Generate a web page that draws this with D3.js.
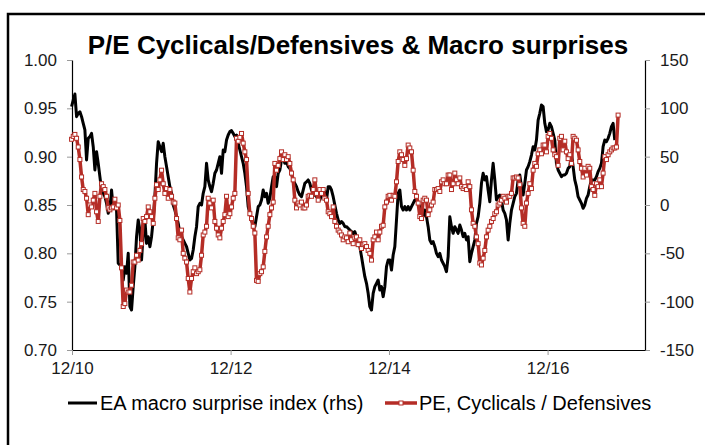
<!DOCTYPE html>
<html>
<head>
<meta charset="utf-8">
<script src="https://cdn.jsdelivr.net/npm/d3@7"></script>
<style>
  body { margin: 0; background: #fff; }
  svg { display: block; font-family: Arial, "Liberation Sans", sans-serif; }
</style>
</head>
<body>
<svg id="chart" width="705" height="445"></svg>
<script>
// observations roughly weekly, first one end of Nov 2010
var firstObs = new Date(2010, 10, 29);
var obsStepDays = 7.68;

// P/E Cyclicals / Defensives (lhs)
var peRatio = [
  .918,.921,.923,.919,.910,.897,.879,.866,.864,.857,
  .840,.850,.848,.855,.862,.843,.833,.859,.872,.869,
  .866,.859,.847,.845,.847,.848,.856,.847,.850,.834,
  .785,.745,.748,.762,.760,.760,.767,.791,.791,.798,
  .793,.803,.810,.836,.833,.838,.848,.843,.838,.831,
  .857,.871,.866,.876,.886,.872,.862,.867,.857,.866,
  .859,.853,.852,.836,.816,.814,.824,.800,.795,.791,
  .774,.760,.774,.781,.785,.779,.781,.783,.798,.819,
  .822,.828,.857,.852,.847,.855,.833,.826,.819,.816,
  .826,.833,.840,.859,.838,.841,.848,.857,.862,.919,
  .916,.920,.924,.914,.905,.897,.862,.841,.836,.828,
  .821,.772,.771,.779,.781,.786,.802,.817,.828,.840,
  .847,.853,.893,.886,.891,.898,.905,.897,.902,.897,
  .900,.893,.883,.876,.855,.847,.852,.850,.853,.847,
  .847,.850,.859,.860,.859,.866,.876,.862,.855,.866,
  .862,.866,.857,.855,.843,.841,.838,.848,.833,.828,
  .824,.822,.819,.814,.817,.816,.812,.821,.814,.810,
  .816,.817,.809,.814,.805,.809,.810,.807,.803,.800,
  .793,.814,.817,.822,.814,.822,.828,.829,.848,.853,
  .859,.860,
  .855,.860,.859,.874,.895,.905,.902,.897,.891,.898,
  .912,.909,.905,.886,.864,.859,.852,.838,.836,.855,
  .857,.855,.840,.845,.850,.853,.866,.866,.867,.864,
  .874,.876,.872,.872,.881,.881,
  .866,.872,.883,.876,.872,.878,.869,.867,.869,.866,
  .874,.869,.845,.831,.828,.817,.810,.790,.788,.795,
  .803,.817,.824,.828,.833,.836,.841,.843,.850,.852,
  .855,.859,.857,.853,.859,.859,.862,.878,.878,.879,
  .878,.871,.847,.831,.828,.852,.862,.872,.867,.886,
  .893,.890,.903,.907,.903,.912,.912,.905,.921,.924,
  .919,.907,.902,.900,.891,.919,.921,.907,.916,.905,
  .898,.902,.893,.921,.919,.917,.907,.895,.888,.879,
  .888,.881,.890,.888,.869,.866,.860,.872,.869,.876,
  .869,.883,.900,.897,.902,.905,.907,.909,.909,.910,
  .943
];

// EA macro surprise index (rhs)
var macroSurprise = [
  101.7,108.6,114.8,91.4,94.8,96.5,91.4,84.5,77.6,46.6,
  69.0,70.7,74.1,60.3,36.2,55.2,43.1,29.3,15.5,12.1,
  8.6,1.7,-8.6,-3.4,15.5,-3.4,-1.7,-5.2,-60.3,-62.1,
  -62.1,-77.6,-63.8,-70.7,-50.0,-105.2,-108.6,-84.5,-63.8,-32.8,
  -15.5,-25.9,-56.9,-29.3,-15.5,-39.7,-32.8,-43.1,-32.8,-15.5,
  8.6,43.1,65.5,60.3,55.2,63.8,50.0,39.7,29.3,19.0,
  12.1,0,-5.2,-12.1,-19.0,-29.3,-32.8,-36.2,-39.7,-43.1,
  -50.0,-56.9,-55.2,-46.6,-32.8,-22.4,-1.7,1.7,0,12.1,
  19.0,43.1,25.9,19.0,13.8,22.4,32.8,36.2,43.1,50.0,
  32.8,56.9,55.2,67.2,72.4,75.9,76.9,74.1,70.7,72.4,
  63.8,56.9,50.0,43.1,32.8,19.0,-1.7,-8.6,-15.5,-22.4,
  -22.4,-12.1,-1.7,0,5.2,15.5,8.6,12.1,1.7,6.9,
  19.0,29.3,29.3,19.0,32.8,36.2,46.6,50.0,43.1,44.8,
  39.7,37.9,32.8,25.9,22.4,19.0,13.8,10.3,8.6,15.5,
  22.4,24.1,25.9,22.4,15.5,12.1,10.3,8.6,6.9,5.2,
  10.3,12.1,13.8,5.2,19.0,19.0,15.5,8.6,0,-8.6,
  -15.5,-19.0,-17.2,-19.0,-22.4,-22.4,-24.1,-25.9,-27.6,-29.3,
  -27.6,-32.8,-39.7,-43.1,-53.4,-63.8,-74.1,-81.0,-91.4,-105.2,
  -108.6,-91.4,-84.5,-81.0,-77.6,-87.9,-84.5,-94.8,-84.5,-63.8,
  -56.9,-56.9,
  -67.2,-51.7,-43.1,-15.5,12.1,15.5,-1.7,-5.2,-1.7,-5.2,
  -1.7,-5.2,-1.7,1.7,5.2,5.2,1.7,-1.7,-8.6,-12.1,
  -5.2,-12.1,-22.4,-36.2,-39.7,-37.9,-43.1,-50.0,-53.4,-50.0,
  -56.9,-60.3,-63.8,-69.0,-53.4,-12.1,
  -22.4,-29.3,-22.4,-25.9,-29.3,-20.7,-25.9,-32.8,-29.3,-36.2,
  -32.8,-58.6,-50.0,-43.1,-36.2,-19.0,-12.1,1.7,22.4,32.8,
  25.9,29.3,15.5,3.4,25.9,43.1,25.9,5.2,8.6,10.3,
  5.2,-5.2,-8.6,-15.5,-36.2,-19.0,-5.2,1.7,8.6,12.1,
  25.9,31.0,19.0,10.3,22.4,36.2,39.7,44.8,51.7,60.3,
  56.9,67.2,87.9,94.8,103.4,101.7,84.5,75.9,77.6,84.5,
  81.0,74.1,67.2,43.1,36.2,32.8,29.3,31.0,31.0,32.8,
  37.9,39.7,53.4,39.7,25.9,19.0,8.6,5.2,1.7,-3.4,
  0,6.9,10.3,19.0,25.9,25.9,25.9,29.3,34.5,37.9,
  43.1,60.3,67.2,65.5,69.0,74.1,81.0,84.5,67.2
];

var leftTicks = [0.70, 0.75, 0.80, 0.85, 0.90, 0.95, 1.00];
var rightTicks = [-150, -100, -50, 0, 50, 100, 150];
var xTickDates = [new Date(2010, 11, 1), new Date(2012, 11, 1), new Date(2014, 11, 1), new Date(2016, 11, 1)];
var xTickLabels = ["12/10", "12/12", "12/14", "12/16"];
var xDomain = [new Date(2010, 11, 1), new Date(2018, 1, 23)];

var titleText = "P/E Cyclicals/Defensives & Macro surprises";
var legendNames = ["EA macro surprise index (rhs)", "PE, Cyclicals / Defensives"];

var red = "#b52d26";
var tickGrey = "#9a9a9a";

var svg = d3.select("#chart");

// outer frame (only left and top edges fall inside the picture)
svg.append("rect")
  .attr("x", 8).attr("y", 14)
  .attr("width", 720).attr("height", 460)
  .attr("fill", "none")
  .attr("stroke", "#000")
  .attr("stroke-width", 2.5);

var margin = {left: 72, right: 645, top: 60, bottom: 350};

var x = d3.scaleTime().domain(xDomain).range([margin.left, margin.right]);
var yL = d3.scaleLinear().domain([0.70, 1.00]).range([margin.bottom, margin.top]);
var yR = d3.scaleLinear().domain([-150, 150]).range([margin.bottom, margin.top]);

function obsDate(i) {
  return new Date(+firstObs + i * obsStepDays * 864e5);
}

var peData = peRatio.map(function(v, i) { return {date: obsDate(i), value: v}; });
var surpriseData = macroSurprise.map(function(v, i) { return {date: obsDate(i), value: v}; });

function styleAxis(g) {
  g.select(".domain").attr("stroke", "#000").attr("stroke-width", 1.2);
  g.selectAll(".tick line").attr("stroke", tickGrey);
  g.selectAll(".tick text")
    .attr("fill", "#1a1a1a")
    .style("font-size", "17px");
}

// left axis
svg.append("g")
  .attr("transform", "translate(" + margin.left + ",0)")
  .call(d3.axisLeft(yL).tickValues(leftTicks).tickFormat(d3.format(".2f"))
    .tickSize(5).tickSizeOuter(0).tickPadding(10))
  .call(styleAxis);

// right axis, plain hyphen for negatives like the source
svg.append("g")
  .attr("transform", "translate(" + margin.right + ",0)")
  .call(d3.axisRight(yR).tickValues(rightTicks)
    .tickFormat(function(d) { return String(d); })
    .tickSize(5).tickSizeOuter(0).tickPadding(10))
  .call(styleAxis);

// bottom axis
svg.append("g")
  .attr("transform", "translate(0," + margin.bottom + ")")
  .call(d3.axisBottom(x).tickValues(xTickDates)
    .tickFormat(function(d, i) { return xTickLabels[i]; })
    .tickSize(5).tickSizeOuter(0).tickPadding(7))
  .call(styleAxis);

// macro surprise line
var lineR = d3.line()
  .x(function(d) { return x(d.date); })
  .y(function(d) { return yR(d.value); });

svg.append("path")
  .datum(surpriseData)
  .attr("fill", "none")
  .attr("stroke", "#000")
  .attr("stroke-width", 3)
  .attr("stroke-linejoin", "round")
  .attr("d", lineR);

// P/E line with markers
var lineL = d3.line()
  .x(function(d) { return x(d.date); })
  .y(function(d) { return yL(d.value); });

svg.append("path")
  .datum(peData)
  .attr("fill", "none")
  .attr("stroke", red)
  .attr("stroke-width", 3.5)
  .attr("stroke-linejoin", "round")
  .attr("d", lineL);

svg.append("g").selectAll("rect")
  .data(peData)
  .enter().append("rect")
  .attr("x", function(d) { return x(d.date) - 2; })
  .attr("y", function(d) { return yL(d.value) - 2; })
  .attr("width", 4).attr("height", 4)
  .attr("fill", "#fff")
  .attr("stroke", red)
  .attr("stroke-width", 1);

// title
svg.append("text")
  .attr("x", 358).attr("y", 54)
  .attr("text-anchor", "middle")
  .style("font-size", "26px")
  .style("font-weight", "bold")
  .attr("fill", "#000")
  .text(titleText);

// legend
var legY = 403;
var leg = svg.append("g").style("font-size", "20px");

leg.append("line")
  .attr("x1", 68).attr("x2", 97).attr("y1", legY).attr("y2", legY)
  .attr("stroke", "#000").attr("stroke-width", 3);
leg.append("text")
  .attr("x", 100).attr("y", legY).attr("dy", "0.35em")
  .text(legendNames[0]);

leg.append("line")
  .attr("x1", 385).attr("x2", 417).attr("y1", legY).attr("y2", legY)
  .attr("stroke", red).attr("stroke-width", 3.5);
leg.append("rect")
  .attr("x", 399).attr("y", legY - 2).attr("width", 4).attr("height", 4)
  .attr("fill", "#fff").attr("stroke", red).attr("stroke-width", 1);
leg.append("text")
  .attr("x", 419).attr("y", legY).attr("dy", "0.35em")
  .text(legendNames[1]);
</script>
</body>
</html>
